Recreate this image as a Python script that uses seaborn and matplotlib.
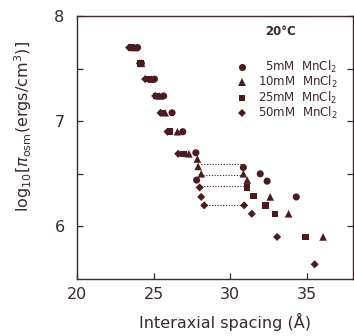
import pandas as pd
import matplotlib
matplotlib.use("Agg")
import matplotlib.pyplot as plt
import seaborn as sns

# 5mM MnCl2 (circles)
x_5mM = [23.95, 24.2, 25.05, 25.65, 26.2, 26.9, 27.75, 27.8, 30.85, 31.95, 32.4, 34.3]
y_5mM = [7.70, 7.55, 7.40, 7.24, 7.08, 6.90, 6.70, 6.44, 6.56, 6.50, 6.43, 6.28]
# 10mM MnCl2 (triangles)
x_10mM = [23.75, 24.2, 24.85, 25.4, 25.75, 26.55, 27.3, 27.85, 27.9, 28.1, 30.85, 31.1, 32.6, 33.8, 36.05]
y_10mM = [7.70, 7.55, 7.40, 7.24, 7.08, 6.90, 6.69, 6.64, 6.57, 6.50, 6.50, 6.44, 6.28, 6.12, 5.90]
# 25mM MnCl2 (squares)
x_25mM = [23.55, 24.15, 24.65, 25.2, 25.55, 26.05, 26.95, 31.1, 31.5, 32.3, 32.9, 34.9]
y_25mM = [7.70, 7.55, 7.40, 7.24, 7.08, 6.90, 6.69, 6.37, 6.29, 6.20, 6.12, 5.90]
# 50mM MnCl2 (diamonds)
x_50mM = [23.4, 24.1, 24.45, 25.1, 25.45, 25.9, 26.6, 28.0, 28.1, 28.3, 30.9, 31.4, 33.05, 35.5]
y_50mM = [7.70, 7.55, 7.40, 7.24, 7.08, 6.90, 6.69, 6.37, 6.28, 6.20, 6.20, 6.12, 5.90, 5.64]

# dotted tie lines between coexisting phases
tie_y = [6.59, 6.49, 6.38, 6.20]
tie_x0 = [28.1, 28.2, 28.1, 28.4]
tie_x1 = [30.75, 30.75, 31.0, 30.8]

salts = ["5mM", "10mM", "25mM", "50mM"]
labels = ["\u20075mM  MnCl$_2$", "10mM  MnCl$_2$", "25mM  MnCl$_2$", "50mM  MnCl$_2$"]

df = pd.concat([
    pd.DataFrame({"spacing": x_5mM, "logp": y_5mM, "salt": "5mM"}),
    pd.DataFrame({"spacing": x_10mM, "logp": y_10mM, "salt": "10mM"}),
    pd.DataFrame({"spacing": x_25mM, "logp": y_25mM, "salt": "25mM"}),
    pd.DataFrame({"spacing": x_50mM, "logp": y_50mM, "salt": "50mM"}),
])

sns.set_theme(style="white")
plt.rcParams['font.family'] = ['DejaVu Sans']
ink = '#4a1c1f'
txt = '#3b2a2a'

fig = plt.figure(figsize=(3.54, 3.36), dpi=100)
ax = fig.add_axes([77/354, 1-279/336, 276/354, 263/336])

for y, a, b in zip(tie_y, tie_x0, tie_x1):
    ax.plot([a, b], [y, y], ls=(0, (1, 1.5)), lw=0.8, color=ink)

sns.scatterplot(data=df, x="spacing", y="logp", style="salt", style_order=salts,
                size="salt", size_order=salts,
                sizes={"5mM": 26, "10mM": 30, "25mM": 22, "50mM": 17},
                markers={"5mM": "o", "10mM": "^", "25mM": "s", "50mM": "D"},
                color=ink, edgecolor='none', ax=ax, zorder=3)

ax.set_xlim(20, 38)
ax.set_ylim(5.5, 8)
ax.set_xticks([20, 25, 30, 35])
ax.set_yticks([6, 7, 8])
ax.set_yticks([6.5, 7.5], minor=True)
ax.tick_params(which='both', direction='in', length=4, width=0.9, color=txt,
               labelsize=11.5, labelcolor=txt, left=True, right=True, bottom=True)
ax.tick_params(axis='x', pad=6)
ax.tick_params(axis='y', pad=9)
for sp in ax.spines.values():
    sp.set_color(txt)
    sp.set_linewidth(1.0)

ax.set_xlabel("Interaxial spacing (Å)", fontsize=11.5, color=txt)
ax.set_ylabel(r"log$_{10}$[$\pi_{\rm osm}$(ergs/cm$^3$)]", fontsize=11.5, color=txt)
ax.yaxis.set_label_coords(-0.155, 0.58)
ax.xaxis.set_label_coords(0.535, -0.13)

handles, _ = ax.get_legend_handles_labels()
ax.legend(handles[-4:], labels, loc='upper left', bbox_to_anchor=(0.56, 0.86),
          frameon=False, fontsize=8.5, handlelength=0.8, handletextpad=0.9,
          labelspacing=-0.05, borderpad=0, labelcolor=txt)
ax.text(0.68, 0.965, "20°C", transform=ax.transAxes, fontsize=8.5,
        color=txt, fontweight='bold', va='top')

fig.savefig("out.png", dpi=100)
